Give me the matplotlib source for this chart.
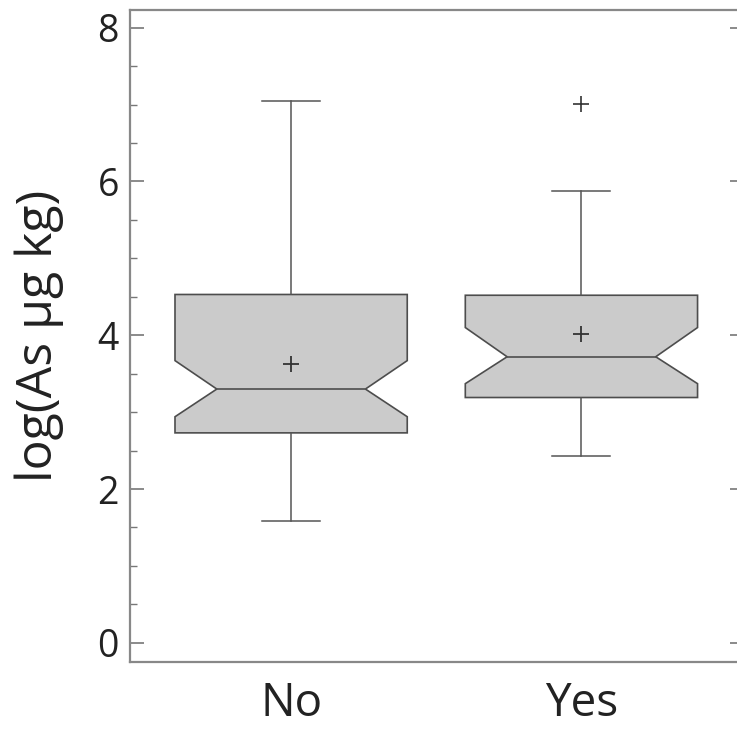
import matplotlib
matplotlib.use("Agg")
import matplotlib.pyplot as plt
from matplotlib.ticker import MultipleLocator

# ===== data =====
groups = ["No", "Yes"]
whislo = [1.59, 2.43]
q1 = [2.73, 3.19]
med = [3.30, 3.72]
q3 = [4.53, 4.52]
whishi = [7.05, 5.87]
means = [3.62, 4.01]
cilo = [2.94, 3.37]
cihi = [3.67, 4.10]
fliers = [[], [7.01]]

positions = [1, 2]
box_width = 0.8
waist = 0.32  # notch half-width as fraction of box width

plt.rcParams['font.family'] = ['Open Sans', 'DejaVu Sans']

stats = []
for i, g in enumerate(groups):
    stats.append(dict(label=g, whislo=whislo[i], q1=q1[i], med=med[i], q3=q3[i],
                      whishi=whishi[i], mean=means[i], cilo=cilo[i], cihi=cihi[i],
                      fliers=fliers[i]))

fig = plt.figure(figsize=(7.37, 7.32), dpi=100)
ax = fig.add_axes([130 / 737, 1 - 662 / 732, 614 / 737, 652 / 732])

edge = '#4d4d4d'
bp = ax.bxp(stats, positions=positions, widths=box_width, capwidths=0.2,
            shownotches=True, showmeans=True, patch_artist=True,
            boxprops=dict(facecolor='#cbcbcb', edgecolor=edge, linewidth=1.2),
            medianprops=dict(color=edge, linewidth=1.2),
            whiskerprops=dict(color='#555555', linewidth=1.1),
            capprops=dict(color='#555555', linewidth=1.1),
            meanprops=dict(marker='+', markersize=12, markeredgecolor='#333333',
                           markeredgewidth=1.3),
            flierprops=dict(marker='+', markersize=11, markeredgecolor='#333333',
                            markeredgewidth=1.2))

# widen the notch waist a bit, like the original software draws it
for pos, box, ml in zip(positions, bp['boxes'], bp['medians']):
    v = box.get_path().vertices
    v[3, 0] = pos + box_width * waist
    v[8, 0] = pos - box_width * waist
    ml.set_xdata([pos - box_width * waist, pos + box_width * waist])

ax.set_xlim(0.445, 2.56)
ax.set_ylim(-0.25, 8.23)
ax.yaxis.set_major_locator(MultipleLocator(2))
ax.yaxis.set_minor_locator(MultipleLocator(0.5))
ax.set_xticks(positions)
ax.set_xticklabels(groups)

ax.tick_params(axis='y', which='both', direction='in', right=True, color='#777777',
               labelsize=27, labelcolor='#222222', pad=8)
ax.tick_params(axis='y', which='major', length=10, width=1.2)
ax.tick_params(axis='y', which='minor', length=5, width=1.0)
ax.tick_params(axis='x', length=0, labelsize=33, labelcolor='#222222', pad=14)

for s in ax.spines.values():
    s.set_color('#888888')
    s.set_linewidth(1.6)

ax.set_ylabel("log(As µg kg)", fontsize=36, color='#222222', labelpad=24)

fig.savefig("out.png", dpi=100)
